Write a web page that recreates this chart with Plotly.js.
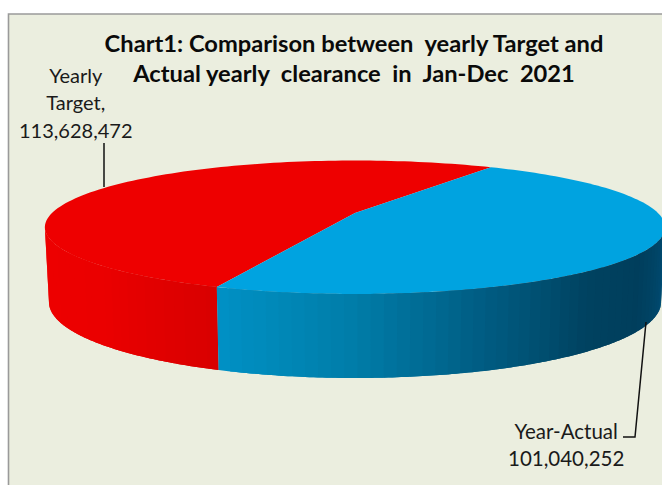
<!DOCTYPE html>
<html>
<head>
<meta charset="utf-8">
<script src="https://cdn.plot.ly/plotly-3.0.1.min.js"></script>
<style>html,body{margin:0;padding:0;background:#fff}#chart{width:662px;height:485px}</style>
</head>
<body>
<div id="chart"></div>
<script>
// Clearance figures for Jan-Dec 2021
const categories = ['Yearly Target', 'Year-Actual'];
const values = [113628472, 101040252];
const sliceColors = ['#EE0000', '#00A3E0'];

// Side-wall shading: [angle in degrees, r, g, b]
const redWallStops = [[192, 238, 0, 0], [225, 235, 0, 0], [249, 216, 0, 0]];
const blueWallStops = [[248, 0, 146, 198], [270, 0, 124, 168], [290, 0, 92, 130],
                       [310, 0, 66, 96], [325, 0, 62, 92], [340, 0, 72, 108], [348, 0, 86, 128]];

// Disc projection: the far side shrinks by the factor w, as in a perspective view
const centre = 355;
const top_ = {y: 213, a: 303, b: 63.7};
const low = {y: 285.8, a: 299, b: 72.5};
const k = 0.2135;
const startAngle = 58;
const rad = d => d * Math.PI / 180;
const rim = (ring, deg) => {
  const w = 1 + k * Math.sin(rad(deg));
  return [centre + ring.a * Math.cos(rad(deg)) / w, ring.y - ring.b * Math.sin(rad(deg)) / w];
};

const total = values.reduce((s, v) => s + v, 0);
const sweep = values.map(v => v / total * 360);
const splitAngle = startAngle + sweep[0];
const endAngle = startAngle + 360;

const traces = [];
function addPoly(pts, color) {
  traces.push({
    type: 'scatter', mode: 'none', fill: 'toself', fillcolor: color,
    x: pts.map(p => p[0]), y: pts.map(p => p[1]),
    hoverinfo: 'skip', showlegend: false
  });
}
function sector(from, to, color) {
  const pts = [[centre, top_.y]];
  for (let d = from; d <= to + 1e-6; d += (to - from) / 120) pts.push(rim(top_, d));
  addPoly(pts, color);
}
function shade(stops, deg) {
  let i = 0;
  while (i < stops.length - 2 && deg > stops[i + 1][0]) i++;
  const a = stops[i], b = stops[i + 1];
  const t = Math.min(1, Math.max(0, (deg - a[0]) / (b[0] - a[0])));
  return 'rgb(' + [1, 2, 3].map(c => Math.round(a[c] + (b[c] - a[c]) * t)).join(',') + ')';
}
// Each band runs on under the next one, so no seams show between them
function wall(from, to, stops) {
  const n = Math.ceil((to - from) / 2);
  for (let i = 0; i < n; i++) {
    const d0 = from + (to - from) * i / n;
    const d1 = i === n - 1 ? to : from + (to - from) * (i + 2) / n;
    const upper = [], lower = [];
    for (let j = 0; j <= 6; j++) {
      const d = d0 + (d1 - d0) * j / 6;
      upper.push(rim(top_, d));
      lower.unshift(rim(low, d));
    }
    addPoly(upper.concat(lower), shade(stops, d0 + (to - from) / n / 2));
  }
}

sector(startAngle, splitAngle, sliceColors[0]);
sector(splitAngle, endAngle, sliceColors[1]);
wall(192.3, splitAngle, redWallStops);
wall(splitAngle, 347.7, blueWallStops);

const fmt = v => v.toLocaleString('en-US');
const sized = (s, px) => '<span style="font-size:' + px + 'px">' + s + '</span>';

const layout = {
  width: 662, height: 485,
  margin: {l: 0, r: 0, t: 0, b: 0},
  paper_bgcolor: '#ffffff', plot_bgcolor: '#ffffff',
  showlegend: false,
  title: {
    text: sized('Chart1: Comparison between\u00A0\u00A0yearly Target and', 23.7) + '<br>' +
          sized('Actual yearly\u00A0\u00A0clearance\u00A0\u00A0in\u00A0\u00A0Jan-Dec\u00A0\u00A02021', 23.7),
    font: {family: 'Lato, sans-serif', size: 23, color: '#0a0a0a', weight: 700},
    x: 354 / 662, xanchor: 'center', y: 1 - 52 / 485, yanchor: 'top'
  },
  xaxis: {range: [0, 662], visible: false, fixedrange: true},
  yaxis: {range: [485, 0], visible: false, fixedrange: true},
  shapes: [
    {type: 'rect', layer: 'below', x0: 8.5, x1: 700, y0: 14, y1: 520,
     fillcolor: '#EBEEDF', line: {color: '#9a9a9a', width: 1.6}},
    {type: 'path', path: 'M104,143 L104,187', line: {color: '#111', width: 1.5}},
    {type: 'path', path: 'M646,322 L635,437 L623,437', line: {color: '#111', width: 1.5}}
  ],
  annotations: [
    {x: 75, y: 102, xref: 'x', yref: 'y', showarrow: false, align: 'center',
     text: sized('Yearly', 20) + '<br>' + sized('Target,', 20) + '<br>' + sized(fmt(values[0]), 20),
     font: {family: 'Lato, sans-serif', size: 21, color: '#1a1a1a'}},
    {x: 566, y: 444, xref: 'x', yref: 'y', showarrow: false, align: 'center',
     text: sized('Year-Actual', 20.5) + '<br>' + sized(fmt(values[1]), 20.5),
     font: {family: 'Lato, sans-serif', size: 21, color: '#1a1a1a'}}
  ]
};

Plotly.newPlot('chart', traces, layout, {displayModeBar: false, staticPlot: true});
</script>
</body>
</html>
